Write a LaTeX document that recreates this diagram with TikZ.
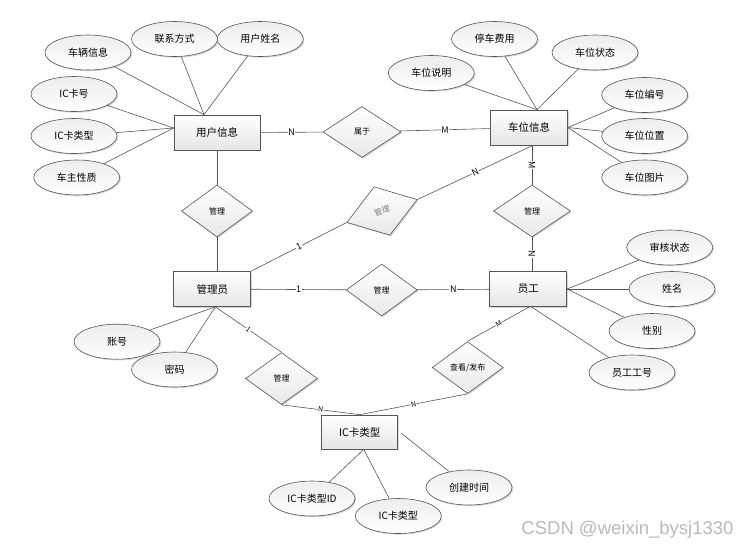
\documentclass[tikz,border=0pt]{standalone}
\usepackage{fontspec}
\setmainfont{Noto Sans CJK SC}
\newfontfamily\wmfont{Liberation Sans}
\usetikzlibrary{shapes.geometric,shadows}
\definecolor{linec}{HTML}{555555}
\tikzset{
  shd/.style={drop shadow={shadow xshift=1.2pt, shadow yshift=-1.2pt, fill=gray!70, opacity=.45}},
  ent/.style={rectangle, draw=linec, line width=0.7pt, top color=white, bottom color=gray!20,
    minimum width=77pt, minimum height=35pt, inner sep=0pt, shd,
    font=\fontsize{10.5}{12}\selectfont},
  attr/.style={ellipse, draw=linec, line width=0.6pt, top color=gray!14, bottom color=white,
    minimum width=86pt, minimum height=35pt, inner sep=0pt, shd,
    font=\fontsize{10}{12}\selectfont},
  rel/.style={diamond, draw=linec, line width=0.6pt, top color=white, bottom color=gray!18,
    minimum width=71pt, minimum height=52pt, inner sep=0pt, shd,
    font=\fontsize{8}{9}\selectfont},
  lnk/.style={draw=linec, line width=0.6pt},
  card/.style={fill=white, inner sep=0.6pt, font=\fontsize{9}{9}\selectfont},
  cards/.style={fill=white, inner sep=0.4pt, font=\fontsize{7}{7}\selectfont},
}
\begin{document}
\begin{tikzpicture}[x=1pt,y=-1pt]
\useasboundingbox (0,0) rectangle (751,550);
% entities
\node[ent, minimum width=86pt] (user) at (217,132.5) {用户信息};
\node[ent] (park) at (529,127.5) {车位信息};
\node[ent] (mgr) at (212.3,289) {管理员};
\node[ent] (emp) at (528.3,289) {员工};
\node[ent, minimum width=76pt, minimum height=34pt] (ict) at (359.7,432) {IC卡类型};
% relationships
\node[rel, minimum width=78pt, minimum height=51pt] (belong) at (362,132) {属于};
\node[rel] (gl) at (217,211) {管理};
\node[rel, minimum width=77pt] (pm) at (532,211) {管理};
\node[rel, minimum width=74pt, minimum height=51pt, rotate=18, text=gray] (rm) at (382,211) {管理};
\node[rel] (me) at (381.7,290) {管理};
\node[rel, minimum width=72pt] (mi) at (281.5,378.5) {管理};
\node[rel] (ck) at (467.7,367.5) {查看/发布};
% attributes
\node[attr] (a1) at (88,52.5) {车辆信息};
\node[attr] (a2) at (174.5,39) {联系方式};
\node[attr] (a3) at (260.3,39) {用户姓名};
\node[attr] (a4) at (74,94) {IC卡号};
\node[attr] (a5) at (74,136) {IC卡类型};
\node[attr] (a6) at (76.7,177.5) {车主性质};
\node[attr] (p1) at (494.5,39) {停车费用};
\node[attr] (p2) at (595,52.5) {车位状态};
\node[attr] (p3) at (431.3,73) {车位说明};
\node[attr] (p4) at (644.7,95) {车位编号};
\node[attr] (p5) at (644.7,136) {车位位置};
\node[attr] (p6) at (644.7,177.5) {车位图片};
\node[attr] (e1) at (669.7,247.5) {审核状态};
\node[attr] (e2) at (672,289) {姓名};
\node[attr] (e3) at (652,331) {性别};
\node[attr] (e4) at (632,372.5) {员工工号};
\node[attr] (m1) at (117,341.7) {账号};
\node[attr] (m2) at (174.5,369.5) {密码};
\node[attr] (i1) at (312,498.5) {IC卡类型ID};
\node[attr] (i2) at (398.3,516) {IC卡类型};
\node[attr] (i3) at (469,487.5) {创建时间};
% junction points
\coordinate (uT) at ([xshift=-13pt]user.north);
\coordinate (uL) at ([yshift=4.5pt]user.west);
\coordinate (pT) at ([xshift=8pt]park.north);
\coordinate (pR) at (park.east);
\coordinate (pB) at ([xshift=4pt]park.south);
\coordinate (eR) at (emp.east);
\coordinate (mB) at ([xshift=3pt]mgr.south);
\coordinate (iB) at ([xshift=4pt]ict.south);
\coordinate (iR) at ([xshift=3pt,yshift=-1pt]ict.east);
% attribute links
\begin{scope}[lnk]
\draw (a1) -- (uT); \draw (a2) -- (uT); \draw (a3) -- (uT);
\draw (a4) -- (uL); \draw (a5) -- (uL); \draw (a6) -- (uL);
\draw (p1) -- (pT); \draw (p2) -- (pT); \draw (p3) -- (pT);
\draw (p4) -- (pR); \draw (p5) -- (pR); \draw (p6) -- (pR);
\draw (e1) -- (eR); \draw (e2) -- (eR); \draw (e3) -- (eR);
\draw (e4) -- ([xshift=3pt]emp.south);
\draw (m1) -- (mB); \draw (m2) -- (mB);
\draw (i1) -- (iB); \draw (i2) -- (iB); \draw (i3) -- (iR);
\end{scope}
% relationship links
\draw[lnk] (user) -- node[card]{N} (belong);
\draw[lnk] (belong) -- node[card]{M} (park);
\draw[lnk] (user) -- (gl);
\draw[lnk] (gl.south) -- (gl.south |- mgr.north);
\draw[lnk] (mgr.north east) -- node[card,sloped]{1} (rm.west);
\draw[lnk] (rm.east) -- node[card,sloped]{N} (pB);
\draw[lnk] (pm.north |- park.south) -- node[card,sloped]{M} (pm.north);
\draw[lnk] (pm.south) -- node[card,sloped]{N} (pm.south |- emp.north);
\draw[lnk] (mgr) -- node[card]{1} (me);
\draw[lnk] (me) -- node[card]{N} (emp);
\draw[lnk] (mB) -- node[cards,sloped]{1} (mi.north);
\draw[lnk] (mi.south) -- node[cards,sloped]{N} (ict.north);
\draw[lnk] ([xshift=1pt]emp.south) -- node[cards,sloped]{M} (ck.north);
\draw[lnk] (ck.south) -- node[cards,sloped]{N} (ict.north);
% watermark
\node[text=gray!55, font=\wmfont\fontsize{18.5}{19}\selectfont, inner sep=0pt] (wm) at (627.5,530) {CSDN @weixin\_bysj1330};
\end{tikzpicture}
\end{document}
